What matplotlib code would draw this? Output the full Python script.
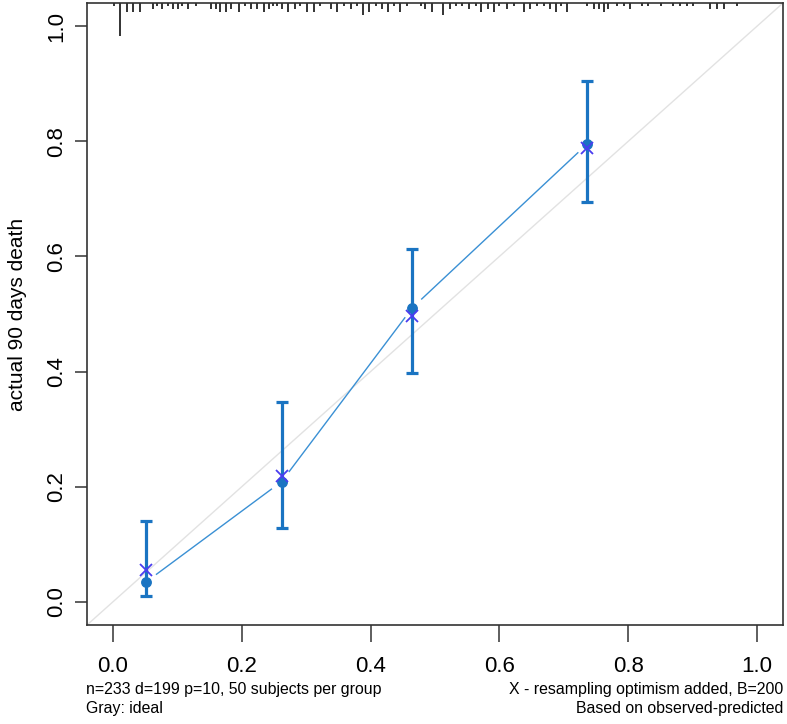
import numpy as np
import matplotlib
matplotlib.use("Agg")
import matplotlib.pyplot as plt
from matplotlib.collections import LineCollection
from matplotlib.ticker import FormatStrFormatter

plt.rcParams['font.family'] = ['Liberation Sans', 'DejaVu Sans']

# calibration groups (predicted vs observed)
predicted = [0.052, 0.262, 0.465, 0.736]
observed = [0.035, 0.209, 0.511, 0.795]
corrected = [0.056, 0.218, 0.497, 0.788]
ci_low = [0.010, 0.128, 0.397, 0.694]
ci_high = [0.141, 0.348, 0.612, 0.904]

# distribution of predicted risks (rug on top): positions and counts
rug_x = [0.002, 0.011, 0.022, 0.031, 0.042, 0.062, 0.069, 0.077, 0.085, 0.093,
         0.101, 0.108, 0.117, 0.129, 0.152, 0.160, 0.167, 0.175, 0.184, 0.196,
         0.205, 0.215, 0.224, 0.235, 0.242, 0.248, 0.255, 0.263, 0.272, 0.283,
         0.291, 0.302, 0.312, 0.322, 0.338, 0.348, 0.359, 0.369, 0.379, 0.388,
         0.398, 0.408, 0.417, 0.427, 0.436, 0.445, 0.457, 0.478, 0.485, 0.496,
         0.513, 0.523, 0.532, 0.542, 0.552, 0.563, 0.572, 0.582, 0.591, 0.600,
         0.612, 0.622, 0.638, 0.647, 0.658, 0.669, 0.678, 0.687, 0.696, 0.705,
         0.736, 0.746, 0.754, 0.762, 0.769, 0.782, 0.793, 0.803, 0.821, 0.831,
         0.850, 0.870, 0.880, 0.891, 0.901, 0.927, 0.937, 0.948, 0.968]
rug_n = [1, 11, 3, 3, 3, 2, 1, 2, 1, 2,
         2, 1, 2, 1, 2, 2, 3, 3, 2, 3,
         1, 2, 2, 3, 2, 1, 1, 2, 3, 2,
         1, 3, 3, 1, 2, 3, 1, 2, 1, 4,
         3, 1, 2, 3, 1, 3, 1, 1, 2, 3,
         4, 2, 1, 1, 2, 1, 3, 2, 3, 1,
         2, 1, 3, 2, 1, 1, 2, 3, 1, 3,
         1, 2, 2, 3, 2, 1, 1, 2, 1, 1,
         1, 1, 1, 1, 1, 2, 2, 2, 1]

x_ticks = [0.0, 0.2, 0.4, 0.6, 0.8, 1.0]
y_label = "actual 90 days death"
note_left = "n=233 d=199 p=10, 50 subjects per group\nGray: ideal"
note_right = "X - resampling optimism added, B=200\nBased on observed-predicted"

W, H = 787, 724
fig = plt.figure(figsize=(W / 100, H / 100), dpi=100)
ax = fig.add_axes([87 / W, 1 - 625 / H, (783 - 87) / W, (625 - 3) / H])
ax.set_xlim(-0.04, 1.04)
ax.set_ylim(-0.04, 1.04)

# ideal line
ax.plot([-0.04, 1.04], [-0.04, 1.04], color='#e2e2e2', lw=1.0, zorder=1)

# rug of predicted risks hanging from the top
top = 1.04
unit = 3 / 576
ax.vlines(rug_x, top - np.array(rug_n) * unit, top, color='#333333', lw=1.4, zorder=2)

# connecting line with gaps around the points (R type="b")
def gapped(ax, xs, ys, gap):
    pts = ax.transData.transform(np.column_stack([xs, ys]))
    inv = ax.transData.inverted()
    segs = []
    for p0, p1 in zip(pts[:-1], pts[1:]):
        u = (p1 - p0) / np.hypot(*(p1 - p0))
        segs.append(inv.transform([p0 + u * gap, p1 - u * gap]))
    return segs

ax.add_collection(LineCollection(gapped(ax, predicted, observed, 12),
                                 colors='#3a90d4', linewidths=1.0, zorder=3))

obs = np.array(observed)
ax.errorbar(predicted, observed, yerr=[obs - np.array(ci_low), np.array(ci_high) - obs],
            fmt='none', ecolor='#1a74c2', elinewidth=2.3, capsize=4.3, capthick=2.3, zorder=4)
ax.plot(predicted, observed, 'o', color='#1a74c2', ms=6.8, zorder=5)
ax.plot(predicted, corrected, 'x', color='#4a3cf0', ms=8.5, mew=1.3, zorder=6)

ax.set_xticks(x_ticks)
ax.set_yticks(x_ticks)
ax.xaxis.set_major_formatter(FormatStrFormatter('%.1f'))
ax.yaxis.set_major_formatter(FormatStrFormatter('%.1f'))
ax.tick_params(axis='x', length=12, width=1.1, color='#333333', pad=10, labelsize=16)
ax.tick_params(axis='y', length=9, width=1.1, color='#333333', pad=5, labelsize=16)
for lab in ax.get_yticklabels():
    lab.set_rotation(90)
    lab.set_va('center')
for s in ax.spines.values():
    s.set_color('#333333')
    s.set_linewidth(1.2)

ax.set_ylabel(y_label, fontsize=15, labelpad=14)

fig.text(86 / W, 1 - 682 / H, note_left, ha='left', va='top', fontsize=11.4, linespacing=1.35)
fig.text(783 / W, 1 - 682 / H, note_right, ha='right', va='top', fontsize=11.4,
         linespacing=1.35, multialignment='right')

fig.savefig('out.png', dpi=100, facecolor='white')
